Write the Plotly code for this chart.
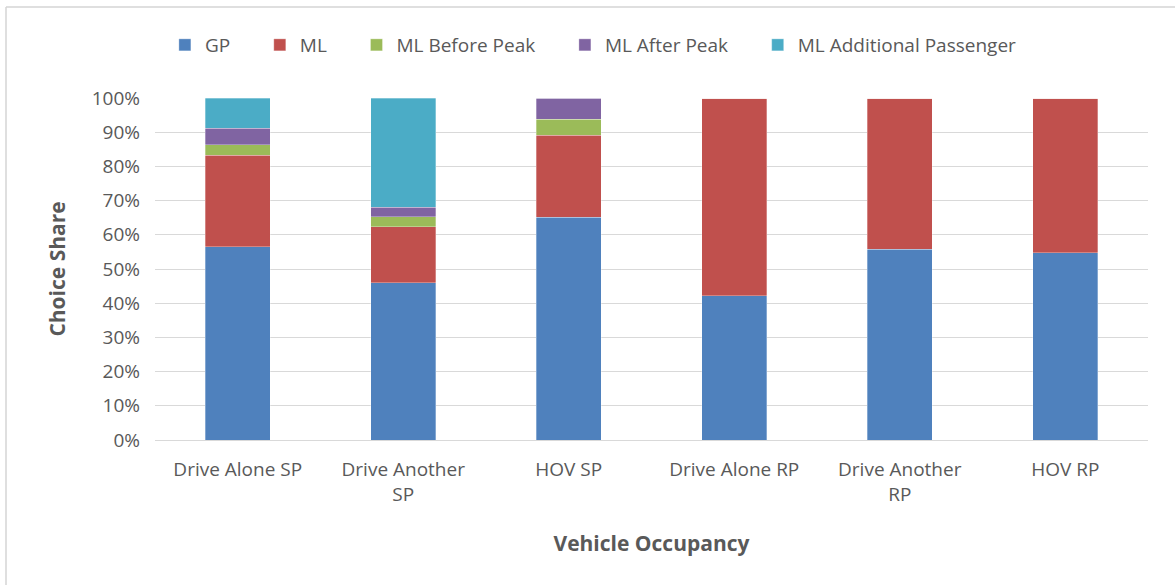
import plotly.graph_objects as go

categories = ["Drive Alone SP", "Drive Another<br>SP", "HOV SP", "Drive Alone RP", "Drive Another<br>RP", "HOV RP"]
gp = [56.5, 46.0, 65.2, 42.2, 55.8, 54.8]
ml = [26.8, 16.4, 23.9, 57.8, 44.2, 45.2]
ml_before = [3.0, 2.9, 4.7, 0, 0, 0]
ml_after = [4.85, 2.7, 6.2, 0, 0, 0]
ml_additional = [8.85, 32.0, 0, 0, 0, 0]

PAD = "\u00a0" * 5
series = [
    ("GP", gp, "#4F81BD"),
    ("ML", ml, "#C0504D"),
    ("ML Before Peak", ml_before, "#9BBB59"),
    ("ML After Peak", ml_after, "#8064A2"),
    ("ML Additional Passenger", ml_additional, "#4BACC6"),
]

fig = go.Figure()
for i, (name, vals, color) in enumerate(series):
    fig.add_trace(go.Bar(
        x=categories, y=[v / 100 for v in vals],
        name=name + (PAD if i < len(series) - 1 else ""),
        marker=dict(color=color, line=dict(color="rgba(255,255,255,0.6)", width=0.5)),
    ))

L, R, T, B = 155, 27, 98, 145
W, H = 1175, 585
pw, ph = W - L - R, H - T - B
FONT = "Open Sans, Liberation Sans, sans-serif"
GREY = "#595959"
BORDER = "#D5D5D5"

bx0 = (6 - L) / pw
by1 = 1 + (T - 7) / ph

fig.update_layout(
    width=W, height=H,
    barmode="stack", bargap=0.61,
    margin=dict(l=L, r=R, t=T, b=B),
    plot_bgcolor="white", paper_bgcolor="white",
    font=dict(family=FONT, color=GREY, size=19),
    legend=dict(orientation="h", xref="container", x=0.505, xanchor="center",
                yref="container", y=1 - 45 / H, yanchor="middle",
                font=dict(size=19, color=GREY), itemwidth=30, traceorder="normal"),
    xaxis=dict(title=dict(text="<b>Vehicle Occupancy</b>", font=dict(size=21, color=GREY), standoff=30),
               tickfont=dict(size=19, color=GREY), showline=True, linecolor="#D9D9D9",
               ticks="", ticklabelstandoff=12),
    yaxis=dict(title=dict(text="<b>Choice Share</b>", font=dict(size=21, color=GREY), standoff=20),
               range=[0, 1], tickformat=".0%", dtick=0.1, tickfont=dict(size=19, color=GREY),
               gridcolor="#D9D9D9", gridwidth=1, zeroline=False, showline=False,
               ticklabelstandoff=14),
    shapes=[
        dict(type="line", xref="paper", yref="paper", x0=bx0, x1=1 + (R + 10) / pw,
             y0=by1, y1=by1, line=dict(color=BORDER, width=1.5)),
        dict(type="line", xref="paper", yref="paper", x0=bx0, x1=bx0,
             y0=-(B + 10) / ph, y1=by1, line=dict(color=BORDER, width=1.5)),
    ],
)

fig.write_html("out.html", config={"displayModeBar": False},
               post_script="document.body.style.margin='0';")
